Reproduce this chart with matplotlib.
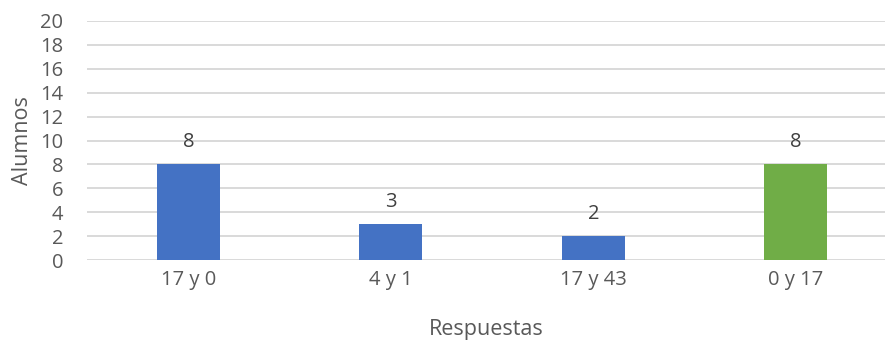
import matplotlib.pyplot as plt

plt.rcParams['font.family'] = ['Open Sans', 'DejaVu Sans']

respuestas = ['17 y 0', '4 y 1', '17 y 43', '0 y 17']
alumnos = [8, 3, 2, 8]
colores = ['#4472C4', '#4472C4', '#4472C4', '#70AD47']

gris = '#595959'

fig = plt.figure(figsize=(8.85, 3.41), dpi=100)
ax = fig.add_axes([87 / 885, 1 - 260 / 341, 798 / 885, 239 / 341])

x = range(len(respuestas))
barras = ax.bar(x, alumnos, width=0.31, color=colores, zorder=3)
for b, v in zip(barras, alumnos):
    ax.annotate(str(v), (b.get_x() + b.get_width() / 2, v), xytext=(0, 9),
                textcoords='offset points', ha='center', va='bottom',
                fontsize=14.5, color='#404040')

ax.set_ylim(0, 20)
ax.set_yticks(range(0, 21, 2))
ax.set_xlim(-0.5, 3.44)
ax.set_xticks(list(x))
ax.set_xticklabels(respuestas)
ax.grid(axis='y', color='#D9D9D9', linewidth=1.4, zorder=0)
for s in ax.spines.values():
    s.set_visible(False)
ax.tick_params(length=0, labelsize=14.5, labelcolor=gris)
ax.tick_params(axis='x', pad=7)
ax.tick_params(axis='y', pad=17)

ax.set_xlabel('Respuestas', fontsize=15.5, color=gris, labelpad=21)
ax.set_ylabel('Alumnos', fontsize=15.5, color=gris, labelpad=5)

fig.savefig('out.png', dpi=100)
